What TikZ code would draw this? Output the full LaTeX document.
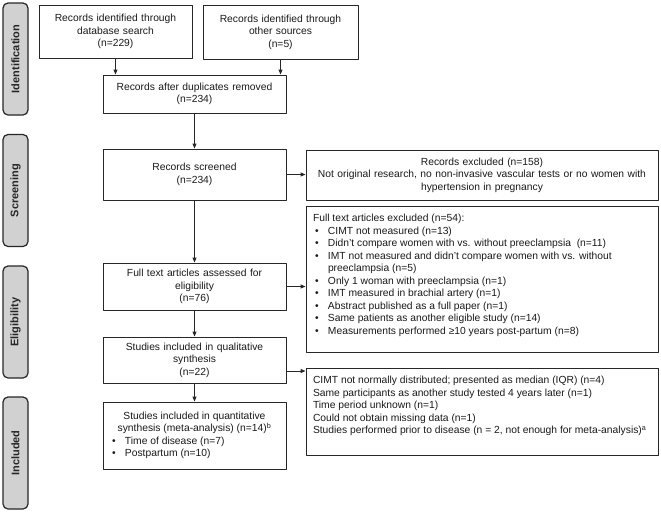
\documentclass[tikz,border=0pt]{standalone}
\usepackage{fontspec}
\setmainfont{Liberation Sans}
\usetikzlibrary{arrows.meta}
\newcommand{\bitem}[1]{\par\hangindent=15pt\hangafter=1\noindent\makebox[15pt][l]{\hspace{2pt}•}#1}
\begin{document}
\begin{tikzpicture}[line cap=round,line join=round,>={Triangle[length=5pt,width=4pt]},x=1pt,y=-1pt,
	box/.style={draw=black!85,line width=0.9pt,align=center,inner sep=3pt,text=black!90,font=\fontsize{10.3}{12.5}\selectfont},
	side/.style={draw=black!85,line width=1.2pt,rounded corners=5pt,fill=black!18,rotate=90,minimum width=112pt,minimum height=25pt,font=\fontsize{11}{12}\selectfont\bfseries,text=black!85},
	conn/.style={line width=0.9pt,draw=black!85,->}]
			\useasboundingbox (0,0) rectangle (661,512);
			\node [side] (ident) at (15.5,59) {Identification};
			\node [side] (screen) at (15.5,190.5) {Screening};
			\node [side] (elig) at (15.5,322) {Eligibility};
			\node [side] (incl) at (15.5,453) {Included};
			\node [box,minimum width=153pt,minimum height=53pt,text width=143pt] (recdb) at (115.5,31.5) {Records identified through\\database search\\(n=229)};
			\node [box,minimum width=155pt,minimum height=54pt,text width=145pt] (recother) at (280.5,32) {Records identified through\\other sources\\(n=5)};
			\node [box,minimum width=183pt,minimum height=38pt,text width=173pt] (recdup) at (194.5,94) {Records after duplicates removed\\(n=234)};
			\node [box,minimum width=183pt,minimum height=51pt,text width=173pt] (recscr) at (194.5,174.5) {Records screened\\(n=234)};
			\node [box,minimum width=183pt,minimum height=47pt,text width=173pt] (fulltext) at (194.5,286.5) {Full text articles assessed for\\eligibility\\(n=76)};
			\node [box,minimum width=183pt,minimum height=46pt,text width=173pt] (qual) at (194.5,360) {Studies included in qualitative\\synthesis\\(n=22)};
			\node [box,minimum width=183pt,minimum height=67pt,inner xsep=7pt] (quant) at (194.5,435.5) {\parbox{169pt}{{\centering Studies included in quantitative\\synthesis (meta-analysis) (n=14)\textsuperscript{b}\par}\bitem{Time of disease (n=7)}\bitem{Postpartum (n=10)}}};
			\node [box,minimum width=352pt,minimum height=50pt,text width=338pt] (exclrec) at (482,175) {Records excluded (n=158)\\Not original research, no non-invasive vascular tests or no women with\\hypertension in pregnancy};
			\node [box,inner xsep=7pt,inner ysep=0pt] (exclfull) at (482,279) {\parbox[c][146pt][t]{338pt}{\raggedright\vspace{8.5pt}Full text articles excluded (n=54):\bitem{CIMT not measured (n=13)}\bitem{Didn’t compare women with vs. without preeclampsia\ \ (n=11)}\bitem{IMT not measured and didn’t compare women with vs. without\newline preeclampsia (n=5)}\bitem{Only 1 woman with preeclampsia (n=1)}\bitem{IMT measured in brachial artery (n=1)}\bitem{Abstract published as a full paper (n=1)}\bitem{Same patients as another eligible study (n=14)}\bitem{Measurements performed ≥10 years post-partum (n=8)}}};
			\node [box,inner xsep=7pt,inner ysep=0pt] (exclqual) at (482,411.5) {\parbox[c][87pt][t]{338pt}{\raggedright\vspace{8.5pt}CIMT not normally distributed; presented as median (IQR) (n=4)\\Same participants as another study tested 4 years later (n=1)\\Time period unknown (n=1)\\Could not obtain missing data (n=1)\\Studies performed prior to disease (n = 2, not enough for meta-analysis)\textsuperscript{a}}};
			\draw [conn] (recdb.south) -- (recdb.south |- recdup.north);
			\draw [conn] (recother.south) -- (recother.south |- recdup.north);
			\draw [conn] (recdup) -- (recscr);
			\draw [conn] (recscr) -- (fulltext);
			\draw [conn] (fulltext) -- (qual);
			\draw [conn] (qual) -- (quant);
			\draw [conn] (recscr.east) -- (recscr.east -| exclrec.west);
			\draw [conn] (fulltext.east) -- (fulltext.east -| exclfull.west);
			\draw [conn] ([yshift=-11pt]qual.east) -- ([yshift=-11pt]qual.east -| exclqual.west);
\end{tikzpicture}
\end{document}
